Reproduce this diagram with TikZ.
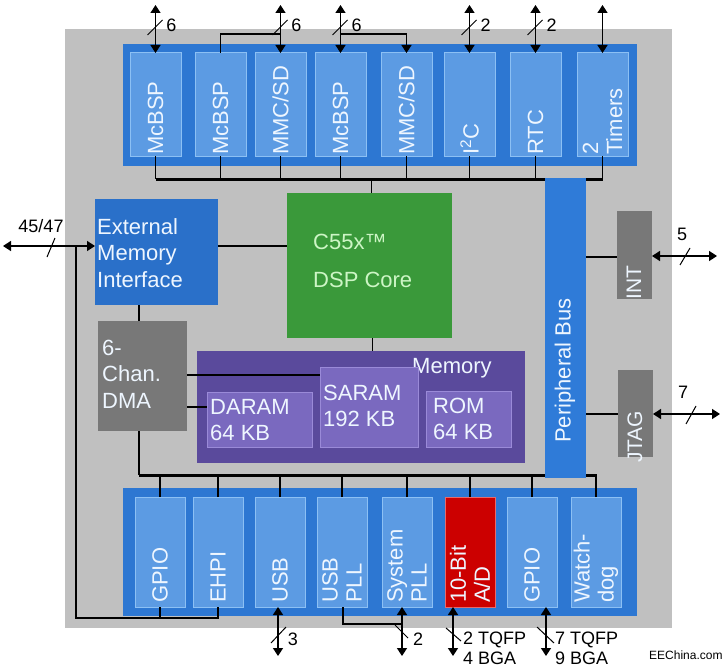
\documentclass[tikz,border=0pt]{standalone}
\usepackage{fontspec}
\setmainfont{Liberation Sans}
\usetikzlibrary{arrows.meta}
\definecolor{bggray}{HTML}{C0C0C0}
\definecolor{barblue}{HTML}{2D77D2}
\definecolor{boxblue}{HTML}{5C9BE3}
\definecolor{boxedge}{HTML}{8CC0F4}
\definecolor{emifblue}{HTML}{2A70C9}
\definecolor{busblue}{HTML}{2F7BD8}
\definecolor{dspgreen}{HTML}{3A993A}
\definecolor{dsptext}{HTML}{CDF5C5}
\definecolor{mempurple}{HTML}{5A4A9C}
\definecolor{memin}{HTML}{7A69BF}
\definecolor{memedge}{HTML}{9A8AD8}
\definecolor{dmagray}{HTML}{787878}
\definecolor{adred}{HTML}{CC0000}
\definecolor{adedge}{HTML}{E86A6A}
\definecolor{lighttext}{HTML}{EEF6FF}
\tikzset{
  blk/.style={anchor=north west, inner sep=0pt, outer sep=0pt},
  pbox/.style={blk, fill=boxblue, draw=boxedge, line width=1pt, minimum width=51pt, minimum height=103pt},
  sbox/.style={blk, fill=boxblue, draw=boxedge, line width=1pt, minimum width=50pt, minimum height=110pt},
  adbox/.style={sbox, fill=adred, draw=adedge},
  membox/.style={blk, fill=memin, draw=memedge, line width=1pt},
  txt/.style={text=lighttext, font=\fontsize{22}{26.5}\selectfont, align=left, inner sep=2pt},
  rtxt/.style={txt, rotate=90, anchor=west, inner sep=1pt, font=\fontsize{22}{24}\selectfont},
  lbl/.style={text=black, font=\fontsize{18}{20}\selectfont, inner sep=0pt, align=left},
  stub/.style={line width=1.5pt, black},
  busline/.style={line width=3pt, black},
  dbl/.style={line width=1.5pt, black, {Triangle[length=8pt,width=10pt]}-{Triangle[length=8pt,width=10pt]}},
  sgl/.style={line width=1.5pt, black, -{Triangle[length=8pt,width=10pt]}},
  slash/.style={line width=1pt, black},
}
\begin{document}
\begin{tikzpicture}[x=1pt,y=-1pt]
\useasboundingbox (0,0) rectangle (727,669);
% background
\fill[bggray] (65,29) rectangle (672,628);
\fill[barblue] (123,44) rectangle (637,166);
\fill[barblue] (123,488) rectangle (637,616);

% helper coordinates
\coordinate (tb) at (0,179);
\coordinate (bb) at (0,475);
\coordinate (ly2) at (0,34);
\coordinate (ey) at (0,246);
\coordinate (ly) at (0,618);
\coordinate (dx) at (139,0);
\coordinate (dy1) at (0,375);
\coordinate (dy2) at (0,407);
\coordinate (iy) at (0,257);
\coordinate (jy) at (0,414);

% top peripheral boxes
\node[pbox] (t1) at (130,53) {};
\node[pbox] (t2) at (195,53) {};
\node[pbox] (t3) at (255,53) {};
\node[pbox] (t4) at (315,53) {};
\node[pbox] (t5) at (381,53) {};
\node[pbox] (t6) at (444,53) {};
\node[pbox] (t7) at (510,53) {};
\node[pbox] (t8) at (577,53) {};
\node[rtxt] at (t1.south) {McBSP};
\node[rtxt] at (t2.south) {McBSP};
\node[rtxt] at (t3.south) {MMC/SD};
\node[rtxt] at (t4.south) {McBSP};
\node[rtxt] at (t5.south) {MMC/SD};
\node[rtxt] at (t6.south) {I\textsuperscript{2}C};
\node[rtxt] at (t7.south) {RTC};
\node[rtxt] at (t8.south) {2\\Timers};

% bottom peripheral boxes
\node[sbox] (b1) at (135,497) {};
\node[sbox] (b2) at (193,497) {};
\node[sbox] (b3) at (255,497) {};
\node[sbox] (b4) at (317,497) {};
\node[sbox] (b5) at (382,497) {};
\node[adbox] (b6) at (445,497) {};
\node[sbox] (b7) at (507,497) {};
\node[sbox] (b8) at (571,497) {};
\node[rtxt, inner sep=4pt] at (b1.south) {GPIO};
\node[rtxt, inner sep=4pt] at (b2.south) {EHPI};
\node[rtxt, inner sep=4pt] at (b3.south) {USB};
\node[rtxt, inner sep=4pt] at (b4.south) {USB\\PLL};
\node[rtxt, inner sep=4pt] at (b5.south) {System\\PLL};
\node[rtxt, inner sep=4pt] at (b6.south) {10-Bit\\A/D};
\node[rtxt, inner sep=4pt] at (b7.south) {GPIO};
\node[rtxt, inner sep=4pt] at (b8.south) {Watch-\\dog};

% top bus
\foreach \n in {t1,t2,t3,t4,t5,t6,t7,t8} \draw[stub] (\n.south) -- (\n.south |- tb);
\draw[busline] (t1.south |- tb) -- (t8.south |- tb);
% bottom bus
\foreach \n in {b1,b2,b3,b4,b5,b6,b7,b8} \draw[stub] (\n.north) -- (\n.north |- bb);
\draw[busline] (dx |- bb) -- ([xshift=1pt]b8.north |- bb);

% main blocks
\node[blk, fill=emifblue, minimum width=123pt, minimum height=106pt] (emif) at (95,199) {};
\node[txt, anchor=west] at (95,253) {External\\Memory\\Interface};
\node[blk, fill=dspgreen, minimum width=165pt, minimum height=145pt] (dsp) at (287,193) {};
\node[txt, text=dsptext, anchor=west] at (311,242) {C55x™};
\node[txt, text=dsptext, anchor=west] at (311,280) {DSP Core};
\node[blk, fill=dmagray, minimum width=89pt, minimum height=110pt] (dma) at (98,321) {};
\node[txt, anchor=west] at (100,374) {6-\\Chan.\\DMA};
\node[blk, fill=mempurple, minimum width=328pt, minimum height=112pt] (mem) at (197,351) {};
\node[txt, anchor=west] at (410,368) {Memory};
\node[membox, minimum width=105pt, minimum height=55pt] (daram) at (207,392) {};
\node[txt, anchor=west] at (208,420) {DARAM\\64 KB};
\node[membox, minimum width=98pt, minimum height=80pt] (saram) at (320,367) {};
\node[txt, anchor=west] at (321,406) {SARAM\\192 KB};
\node[membox, minimum width=85pt, minimum height=56pt] (rom) at (426,391) {};
\node[txt, anchor=west] at (431,419) {ROM\\64 KB};
\node[blk, fill=busblue, minimum width=41pt, minimum height=300pt] (pbus) at (545,178) {};
\node[rtxt] at (565,444) {Peripheral Bus};
\node[blk, fill=dmagray, minimum width=35pt, minimum height=88pt] (int) at (617,211) {};
\node[rtxt, font=\fontsize{21}{24}\selectfont] at (634,301) {INT};
\node[blk, fill=dmagray, minimum width=35pt, minimum height=87pt] (jtag) at (618,370) {};
\node[rtxt, font=\fontsize{21}{24}\selectfont] at (635,464) {JTAG};

% internal connections
\draw[stub] ([xshift=2pt]dsp.north) -- ([xshift=2pt]dsp.north |- tb);
\draw[stub] ([xshift=3pt]dsp.south) -- ([xshift=3pt]dsp.south |- mem.north);
\draw[stub] (emif.east |- ey) -- (dsp.west |- ey);
\draw[stub] (dx |- emif.south) -- (dx |- dma.north);
\draw[stub] (dx |- dma.south) -- (dx |- bb);
\draw[stub] (dma.east |- dy1) -- (saram.west |- dy1);
\draw[stub] (dma.east |- dy2) -- (daram.west |- dy2);
\draw[stub] (pbus.east |- iy) -- (int.west |- iy);
\draw[stub] (pbus.east |- jy) -- (jtag.west |- jy);

% external memory interface arrow and EHPI/GPIO link
\coordinate (extL) at (3,246);
\coordinate (lv) at (76,246);
\draw[dbl] (extL) -- (emif.west |- ey);
\draw[stub] (lv) |- (b2.south |- ly) -- (b2.south);
\draw[stub] (b1.south) -- (b1.south |- ly);
\draw[slash] (47,257) -- (55,238);
\node[lbl] at (41,226) {45/47};

% top external arrows
\coordinate (a1) at (155.5,5);
\coordinate (a3) at (280.5,5);
\coordinate (a4) at (340.5,5);
\coordinate (a6) at (469.5,5);
\coordinate (a7) at (535.5,5);
\coordinate (a8) at (602.5,5);
\draw[dbl] (a1) -- (t1.north);
\draw[dbl] (a3) -- (t3.north);
\draw[dbl] (a4) -- (t4.north);
\draw[dbl] (a6) -- (t6.north);
\draw[dbl] (a7) -- (t7.north);
\draw[dbl] (a8) -- (t8.north);
\draw[stub] (t2.north) |- (t3.north |- ly2);
\draw[sgl] (t4.north |- ly2) -| (t5.north);
\foreach \x/\t in {155.5/6,280.5/6,340.5/6,469.5/2,535.5/2}{
  \draw[slash] (\x-8,35) -- (\x+7,20);
  \node[lbl] at (\x+16,25) {\t};
}

% bottom external arrows
\coordinate (u1) at (278,656);
\coordinate (u2) at (402,656);
\coordinate (u3) at (453,656);
\coordinate (u4) at (546,656);
\draw[dbl] (b3.south -| u1) -- (u1);
\draw[dbl] (b5.south -| u2) -- (u2);
\draw[dbl] (b6.south -| u3) -- (u3);
\draw[dbl] (b7.south -| u4) -- (u4);
\draw[stub] ([xshift=1pt]b4.south) |- (u2 |- {(0,624)});
\draw[slash] (271,643) -- (286,627);
\node[lbl] at (293,639) {3};
\draw[slash] (395,625) -- (408,638);
\node[lbl] at (418,639) {2};
\draw[slash] (446,628) -- (461,641);
\node[lbl, anchor=west] at (463,648) {2 TQFP\\4 BGA};
\draw[slash] (537,627) -- (554,643);
\node[lbl, anchor=west] at (555,648) {7 TQFP\\9 BGA};

% right external arrows
\coordinate (r1) at (717,256);
\coordinate (r2) at (720,414);
\draw[dbl] (int.east |- r1) -- (r1);
\draw[dbl] (jtag.east |- r2) -- (r2);
\draw[slash] (680,265) -- (690,248);
\node[lbl] at (682,234) {5};
\draw[slash] (686,424) -- (696,406);
\node[lbl] at (683,392) {7};

% watermark
\node[anchor=west, inner sep=0pt, font=\fontsize{12}{14}\selectfont] at (649,655) {EEChina.com};
\end{tikzpicture}
\end{document}
